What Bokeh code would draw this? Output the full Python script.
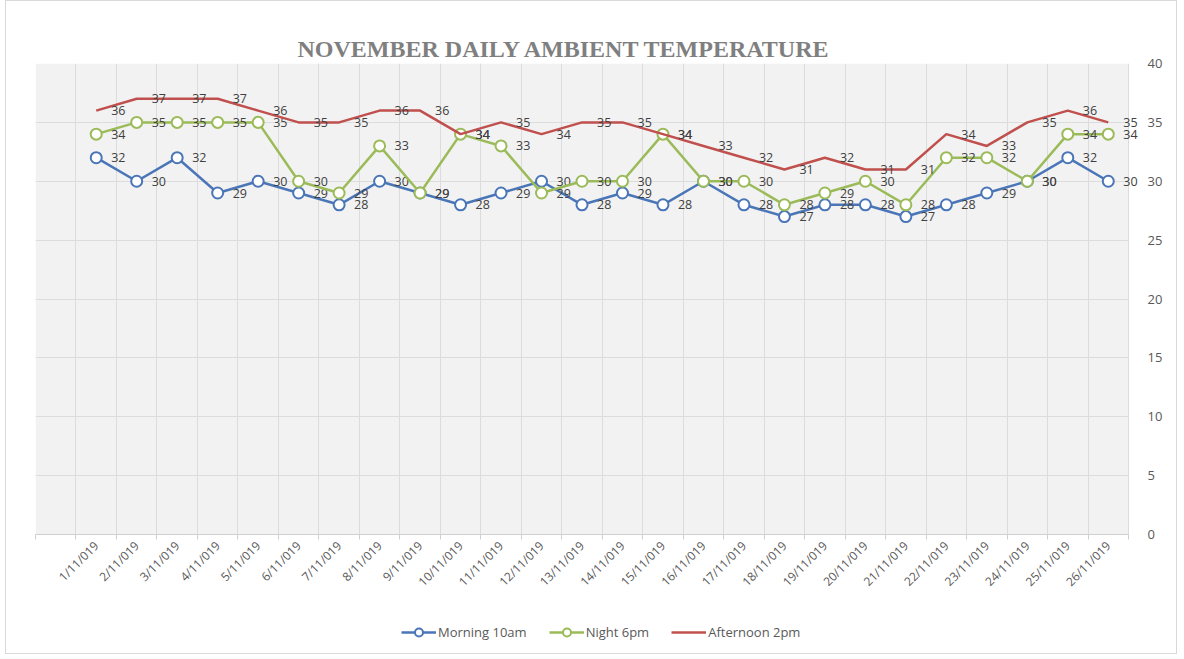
import math
from bokeh.plotting import figure
from bokeh.layouts import column
from bokeh.models import Range1d, FixedTicker, Legend, LegendItem, ColumnDataSource, BoxAnnotation
from bokeh.embed import file_html
from bokeh.resources import INLINE
from bokeh.core.properties import value

dates = ["1/11/019", "2/11/019", "3/11/019", "4/11/019", "5/11/019", "6/11/019",
         "7/11/019", "8/11/019", "9/11/019", "10/11/019", "11/11/019", "12/11/019",
         "13/11/019", "14/11/019", "15/11/019", "16/11/019", "17/11/019", "18/11/019",
         "19/11/019", "20/11/019", "21/11/019", "22/11/019", "23/11/019", "24/11/019",
         "25/11/019", "26/11/019"]
morning = [32, 30, 32, 29, 30, 29, 28, 30, 29, 28, 29, 30, 28, 29, 28, 30, 28, 27, 28, 28, 27, 28, 29, 30, 32, 30]
night = [34, 35, 35, 35, 35, 30, 29, 33, 29, 34, 33, 29, 30, 30, 34, 30, 30, 28, 29, 30, 28, 32, 32, 30, 34, 34]
afternoon = [36, 37, 37, 37, 36, 35, 35, 36, 36, 34, 35, 34, 35, 35, 34, 33, 32, 31, 32, 31, 31, 34, 33, 35, 36, 35]
y_ticks = [0, 5, 10, 15, 20, 25, 30, 35, 40]

BLUE = "#4a76b8"
GREEN = "#9bbb59"
RED = "#c0504d"
LABEL_FONT = value("Open Sans")
BORDER = "1px solid #d9d9d9"

n = len(dates)
xs = list(range(n))
bounds = [i - 0.5 for i in range(-1, n + 1)]
x_lo, x_hi = bounds[0], bounds[-1]

p = figure(width=1172, height=597,
           x_range=Range1d(x_lo, x_hi + 0.37), y_range=Range1d(0, 40),
           y_axis_location="right",
           output_backend="svg", toolbar_location=None,
           min_border_left=29, min_border_right=35, min_border_top=62, min_border_bottom=60,
           background_fill_color="white", border_fill_color="white",
           outline_line_color=None)
p.styles = {"border-top": BORDER, "border-left": BORDER, "border-right": BORDER,
            "margin-left": "5px"}

# plot-area background
p.add_layout(BoxAnnotation(left=x_lo, right=x_hi, bottom=0, top=40, level="image",
                           fill_color="#f2f2f2", fill_alpha=1, line_color=None))

# title
p.title.text = "NOVEMBER DAILY AMBIENT TEMPERATURE"
p.title.align = "left"
p.title.offset = 262
p.title.text_font = "Liberation Serif"
p.title.text_font_style = "bold"
p.title.text_font_size = "24px"
p.title.text_color = "#7f7f7f"
p.title.standoff = 3

# grids
p.xgrid.ticker = FixedTicker(ticks=bounds)
p.xgrid.grid_line_color = "#dcdcdc"
p.ygrid.ticker = FixedTicker(ticks=y_ticks)
p.ygrid.grid_line_color = "#dcdcdc"
try:
    p.ygrid.cross_bounds = (x_lo, x_hi)
except Exception:
    pass

# x axis
xa = p.xaxis[0]
xa.bounds = (x_lo, x_hi)
xa.ticker = FixedTicker(ticks=xs, minor_ticks=bounds)
xa.major_label_overrides = {i: d for i, d in enumerate(dates)}
xa.major_label_orientation = math.pi / 4
xa.major_tick_line_color = None
xa.minor_tick_line_color = "#d0d0d0"
xa.minor_tick_out = 5
xa.minor_tick_in = 0
xa.axis_line_color = "#d0d0d0"
xa.major_label_text_font = "Open Sans"
xa.major_label_text_font_size = "12px"
xa.major_label_text_color = "#595959"
xa.major_label_standoff = 3

# y axis
ya = p.yaxis[0]
ya.ticker = FixedTicker(ticks=y_ticks)
ya.axis_line_color = None
ya.major_tick_line_color = None
ya.minor_tick_line_color = None
ya.major_tick_out = 0
ya.major_tick_in = 0
ya.minor_tick_out = 0
ya.minor_tick_in = 0
ya.major_label_standoff = 4
ya.major_label_text_font = "Open Sans"
ya.major_label_text_font_size = "13px"
ya.major_label_text_color = "#595959"

# legend strip underneath the chart
pl = figure(width=1172, height=57, x_range=Range1d(-100, -99), y_range=Range1d(-100, -99),
            x_axis_type=None, y_axis_type=None, output_backend="svg", toolbar_location=None,
            min_border=0, outline_line_color=None, background_fill_color="white",
            border_fill_color="white")
pl.grid.visible = False
pl.styles = {"border-bottom": BORDER, "border-left": BORDER, "border-right": BORDER,
             "margin-left": "5px"}

def series(vals, color, markers):
    src = ColumnDataSource(dict(x=xs, y=vals, lab=[str(v) for v in vals]))
    p.line("x", "y", source=src, line_color=color, line_width=2.5)
    leg = [pl.line("x", "y", source=src, line_color=color, line_width=2.5)]
    if markers:
        kw = dict(marker="circle", size=11, fill_color="white", line_color=color, line_width=2)
        p.scatter("x", "y", source=src, **kw)
        leg.append(pl.scatter("x", "y", source=src, **kw))
    p.text("x", "y", text="lab", source=src, x_offset=15, text_align="left",
           text_baseline="middle", text_font=LABEL_FONT, text_font_size="12.5px",
           text_color="#404040")
    return leg

r_m = series(morning, BLUE, True)
r_n = series(night, GREEN, True)
r_a = series(afternoon, RED, False)

legend = Legend(items=[LegendItem(label="Morning 10am", renderers=r_m),
                       LegendItem(label="Night 6pm", renderers=r_n),
                       LegendItem(label="Afternoon 2pm", renderers=r_a)],
                orientation="horizontal", location=(366, 12),
                padding=0, margin=0, spacing=22, label_standoff=2,
                glyph_width=35, glyph_height=20,
                border_line_color=None, background_fill_alpha=0,
                label_text_font="Open Sans", label_text_font_size="13px",
                label_text_color="#595959")
pl.add_layout(legend, "center")

layout = column(p, pl, spacing=0)
open("out.html", "w").write(file_html(layout, INLINE))
